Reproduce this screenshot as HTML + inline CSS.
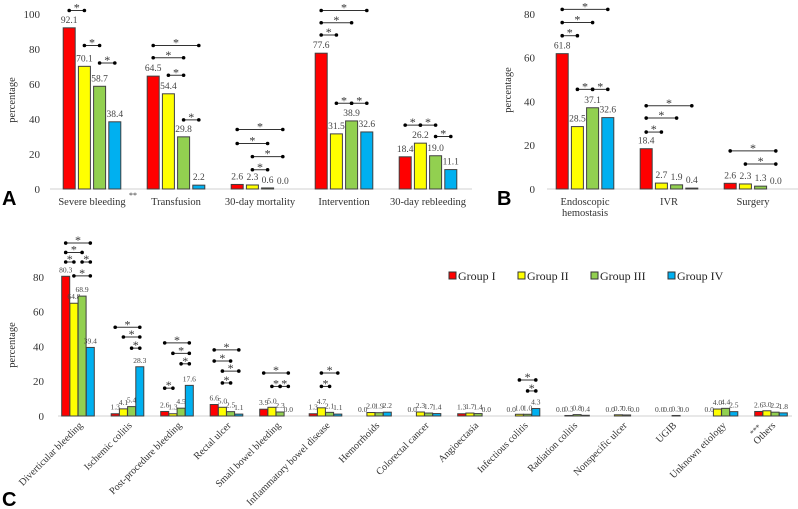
<!DOCTYPE html>
<html><head><meta charset="utf-8"><style>
body{margin:0;background:#fff}
svg{display:block;font-family:"Liberation Serif",serif}
</style></head><body>
<svg id="chart" width="798" height="509" viewBox="0 0 798 509" xmlns="http://www.w3.org/2000/svg">
<text x="2" y="205" font-family="Liberation Sans" font-weight="bold" font-size="20">A</text>
<text x="497" y="205" font-family="Liberation Sans" font-weight="bold" font-size="20">B</text>
<text x="2" y="506" font-family="Liberation Sans" font-weight="bold" font-size="20">C</text>
<g font-size="12" fill="#222">
<rect x="449" y="272" width="7" height="7" fill="#ff0000" stroke="#333"/><text x="458" y="280">Group I</text>
<rect x="518" y="272" width="7" height="7" fill="#ffff00" stroke="#333"/><text x="527" y="280">Group II</text>
<rect x="591" y="272" width="7" height="7" fill="#92d050" stroke="#333"/><text x="600" y="280">Group III</text>
<rect x="668" y="272" width="7" height="7" fill="#00b0f0" stroke="#333"/><text x="677" y="280">Group IV</text>
</g>
</svg>
<script>
const colors=["#ff0000","#ffff00","#92d050","#00b0f0"];
// Panel A data
const catsA=["Severe bleeding","Transfusion","30-day mortality","Intervention","30-day rebleeding"];
const valsA=[[92.1,70.1,58.7,38.4],[64.5,54.4,29.8,2.2],[2.6,2.3,0.6,0.0],[77.6,31.5,38.9,32.6],[18.4,26.2,19.0,11.1]];
const ticksA=[0,20,40,60,80,100];
const sigA=[[0,0,1,102],[0,1,2,82],[0,2,3,72],[1,0,3,82],[1,0,2,75],[1,1,2,65],[1,2,3,39.5],[2,0,3,34],[2,0,2,26],[2,1,3,18.5],[2,1,2,11],[3,0,3,102],[3,0,2,95],[3,0,1,88],[3,1,2,49],[3,2,3,49],[4,0,1,36.5],[4,1,2,36.5],[4,2,3,30]];
// Panel B data
const catsB=["Endoscopic|hemostasis","IVR","Surgery"];
const valsB=[[61.8,28.5,37.1,32.6],[18.4,2.7,1.9,0.4],[2.6,2.3,1.3,0.0]];
const ticksB=[0,20,40,60,80];
const sigB=[[0,0,3,82],[0,0,2,76],[0,0,1,70],[0,1,2,45.5],[0,2,3,45.5],[1,0,3,38],[1,0,2,32.4],[1,0,1,26],[2,0,3,17.4],[2,1,3,11.4]];
// Panel C data
const catsC=["Diverticular bleeding","Ischemic colitis","Post-procedure bleeding","Rectal ulcer","Small bowel bleeding","Inflammatory bowel disease","Hemorrhoids","Colorectal cancer","Angioectasia","Infectious colitis","Radiation colitis","Nonspecific ulcer","UGIB","Unknown etiology","Others"];
const valsC=[[80.3,64.8,68.9,39.4],[1.3,4.1,5.4,28.3],[2.6,1.3,4.5,17.6],[6.6,5.0,2.5,1.1],[3.9,5.0,2.3,0.0],[1.3,4.7,2.1,1.1],[0.0,2.0,1.9,2.2],[0.0,2.3,1.7,1.4],[1.3,1.7,1.4,0.0],[0.0,1.0,1.0,4.3],[0.0,0.3,0.8,0.4],[0.0,0.7,0.6,0.0],[0.0,0.0,0.3,0.0],[0.0,4.0,4.4,2.5],[2.6,3.0,2.2,1.8]];
const ticksC=[0,20,40,60,80];
const sigC=[[0,0,3,99.4],[0,0,2,94],[0,0,1,88.5],[0,2,3,88.5],[0,1,3,80.5],[1,0,3,51],[1,1,3,45.4],[1,2,3,39],[2,0,3,42],[2,1,3,36],[2,2,3,30],[2,0,1,16],[3,0,3,38],[3,0,2,31.6],[3,1,3,25.8],[3,1,2,19],[4,0,3,24.7],[4,1,2,17],[4,2,3,17],[5,1,3,24.7],[5,1,2,17],[9,1,3,20.7],[9,2,3,14.4]];

const svg=document.getElementById('chart');
const NS="http://www.w3.org/2000/svg";
function mk(tag,attrs,parent){const e=document.createElementNS(NS,tag);for(const k in attrs)e.setAttribute(k,attrs[k]);parent.appendChild(e);return e;}

function panel(p){
  const g=mk('g',{},svg);
  
  
  const y=v=>p.y0-v*p.k;
  const bx=(c,b)=>p.c0+c*p.pitch-2*p.bp+b*p.bp+(p.bp-p.bw)/2;
  p.ticks.forEach(t=>{
    const tx=mk('text',{x:p.tickX,y:y(t)+4,'text-anchor':'end','font-size':11,fill:'#333'},g);
    tx.textContent=t;
    
    
  });
  const ax=mk('line',{x1:p.ax1,x2:p.ax2,y1:p.y0,y2:p.y0,stroke:'#d0d0d0','stroke-width':1},g);
  
  
  const yt=mk('text',{x:0,y:0,transform:`translate(${p.ytx},${p.yty}) rotate(-90)`,'text-anchor':'middle','font-size':10.5,fill:'#333'},g);
  yt.textContent='percentage';
  
  
  p.vals.forEach((row,c)=>{
    row.forEach((v,b)=>{
      const x=bx(c,b);
      const r=mk('rect',{x:x,y:y(v),width:p.bw,height:Math.max(v*p.k,0),fill:colors[b],stroke:'#404040','stroke-width':1},g);
      
      
      const l=mk('text',{x:x+p.bw/2,y:y(v)-p.lo,'text-anchor':'middle','font-size':p.lf,fill:'#444'},g);
      l.textContent=v.toFixed(1);
      
      
    });
    const cx=p.c0+c*p.pitch;
    const name=p.cats[c];
    if(p.rot){
      const t=mk('text',{x:0,y:0,transform:`translate(${cx+5},${p.y0+10}) rotate(-45)`,'text-anchor':'end','font-size':10,fill:'#333'},g);
      t.textContent=name;
      
      
    }else{
      name.split('|').forEach((s,i)=>{
        const t=mk('text',{x:cx,y:p.y0+16+i*11,'text-anchor':'middle','font-size':10.5,fill:'#333'},g);
        t.textContent=s;
        
        
      });
    }
  });
  p.sig.forEach(s=>{
    const [c,a,b,v]=s;
    const x1=bx(c,a)+p.bw/2,x2=bx(c,b)+p.bw/2,yy=y(v);
    const ln=mk('line',{x1:x1,x2:x2,y1:yy,y2:yy,stroke:'#333','stroke-width':1},g);
    
    
    [x1,x2].forEach(xx=>{
      const d=mk('circle',{cx:xx,cy:yy,r:1.8,fill:'#000'},g);
      
      
    });
    const st=mk('text',{x:(x1+x2)/2,y:yy+1,'text-anchor':'middle','font-size':12,fill:'#333'},g);
    st.textContent='*';
    
    
  });
  return g;
}
panel({name:'panel-a',cats:catsA,vals:valsA,ticks:ticksA,sig:sigA,y0:189,k:1.75,c0:92,pitch:84,bp:15.2,bw:12,tickX:40,ax1:50,ax2:472,ytx:15,yty:100,lo:5,lf:9.5,rot:false});
panel({name:'panel-b',cats:catsB,vals:valsB,ticks:ticksB,sig:sigB,y0:189,k:2.19,c0:585,pitch:84,bp:15.2,bw:12,tickX:535,ax1:547,ax2:798,ytx:511,yty:90,lo:5,lf:9.5,rot:false});
panel({name:'panel-c',cats:catsC,vals:valsC,ticks:ticksC,sig:sigC,y0:416,k:1.74,c0:78,pitch:49.5,bp:8.2,bw:8,tickX:44,ax1:58,ax2:792,ytx:15,yty:345,lo:4,lf:7.5,rot:true});
// superscripts
const s1=mk('text',{x:129,y:198,'font-size':8,fill:'#333'},svg);
s1.textContent='**';


const s2=mk('text',{x:0,y:0,transform:'translate(753,436) rotate(-45)','font-size':8,fill:'#333'},svg);
s2.textContent='***';


</script>
</body></html>
